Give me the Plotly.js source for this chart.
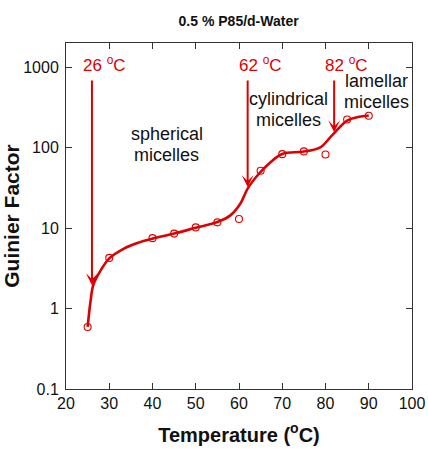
<!DOCTYPE html>
<html>
<head>
<meta charset="utf-8">
<script src="https://cdn.plot.ly/plotly-3.0.1.min.js"></script>
<style>
  html, body { margin: 0; padding: 0; background: #fff; }
  #chart { width: 428px; height: 452px; }
</style>
</head>
<body>
<div id="chart"></div>
<script>
// Measured Guinier factor vs temperature, 0.5 % P85 in d-water
const temperature = [25, 30, 40, 45, 50, 55, 60, 65, 70, 75, 80, 85, 90];
const guinier = [0.59, 4.26, 7.5, 8.55, 10.2, 11.8, 13.0, 51.6, 83, 89.8, 82.4, 224, 249];

// Smooth guide curve through the data
const fitT = [25, 25.7, 26.3, 27.6, 30, 33.4, 36.5, 40, 45, 50, 55, 58, 60.3, 62, 64.6, 67.3, 70, 75, 78.8, 81.5, 85, 87.5, 90];
const fitG = [0.59, 1.27, 1.95, 2.73, 4.2, 5.57, 6.53, 7.4, 8.55, 10.1, 11.9, 14.4, 20.1, 31, 47.4, 66, 83.5, 89.5, 101, 142, 217, 240, 251];

// Transition temperatures and where each arrow lands on the curve
const transitionT = [26, 62, 82];
const arrowTipG = [1.95, 32.4, 155];

// Phase labels
const phaseNames = [["spherical", "micelles"], ["cylindrical", "micelles"], ["lamellar", "micelles"]];
const phaseLabelT = [43.3, 71.5, 91.9];

const yTickVals = [0.1, 1, 10, 100, 1000];
const yTickText = ["0.1", "1", "10", "100", "1000"];

const RED = "#dd0000";
const FONT = "Liberation Sans, Arial, Helvetica, sans-serif";

const traces = [
  {
    x: fitT, y: fitG, type: "scatter", mode: "lines",
    line: { color: RED, width: 2.6, shape: "spline", smoothing: 1 },
    hoverinfo: "skip", showlegend: false
  },
  {
    x: temperature, y: guinier, type: "scatter", mode: "markers",
    marker: { symbol: "circle-open", size: 7, color: RED, line: { width: 1.1, color: RED } },
    showlegend: false
  }
];

const annotations = [];
const arrowTopLog = 2.855;
transitionT.forEach((t, i) => {
  annotations.push({
    x: t, y: Math.log10(arrowTipG[i]), xref: "x", yref: "y",
    ax: t, ay: arrowTopLog, axref: "x", ayref: "y",
    showarrow: true, arrowhead: 3, arrowsize: 1, arrowwidth: 2,
    arrowcolor: RED, standoff: 0, text: ""
  });
  annotations.push({
    x: t, y: 3.035, xref: "x", yref: "y",
    xanchor: "left", yanchor: "middle", xshift: -11,
    text: t + " <sup>o</sup>C", showarrow: false,
    font: { family: FONT, size: 17, color: RED }
  });
});

// phase labels, one annotation per line to keep tight line spacing
const phaseLabelY = [[134, 155], [98.5, 119], [80, 101]];
phaseNames.forEach((lines, i) => {
  lines.forEach((txt, j) => {
    annotations.push({
      x: phaseLabelT[i], xref: "x",
      y: (389 - phaseLabelY[i][j]) / 80.6 - 1, yref: "y",
      xanchor: "center", yanchor: "middle",
      text: txt, showarrow: false,
      font: { family: FONT, size: 18, color: "#111" }
    });
  });
});

const axisCommon = {
  showline: true, linecolor: "#333", linewidth: 1,
  mirror: "ticks", ticks: "inside", ticklen: 6, tickwidth: 1, tickcolor: "#333",
  showgrid: false, zeroline: false,
  tickfont: { family: FONT, size: 16, color: "#111" }
};

const layout = {
  width: 428, height: 452,
  margin: { l: 65.5, r: 16.3, t: 42.7, b: 63 },
  paper_bgcolor: "#fff", plot_bgcolor: "#fff",
  title: {
    text: "<b>0.5 % P85/d-Water</b>",
    font: { family: FONT, size: 14, color: "#111" },
    x: 0.5575, xanchor: "center", y: 0.953, yanchor: "middle"
  },
  xaxis: Object.assign({}, axisCommon, {
    range: [20, 100], tick0: 20, dtick: 10,
    ticklabelstandoff: 0,
    title: { text: "<b>Temperature (<sup>o</sup>C)</b>", font: { family: FONT, size: 20, color: "#111" }, standoff: 16 }
  }),
  yaxis: Object.assign({}, axisCommon, {
    type: "log", range: [-1, Math.log10(2000)],
    tickvals: yTickVals, ticktext: yTickText,
    ticklabelstandoff: 3,
    title: { text: "<b>Guinier Factor</b>", font: { family: FONT, size: 21, color: "#111" }, standoff: 6 }
  }),
  annotations: annotations
};

Plotly.newPlot("chart", traces, layout, { displayModeBar: false, staticPlot: true });
</script>
</body>
</html>
